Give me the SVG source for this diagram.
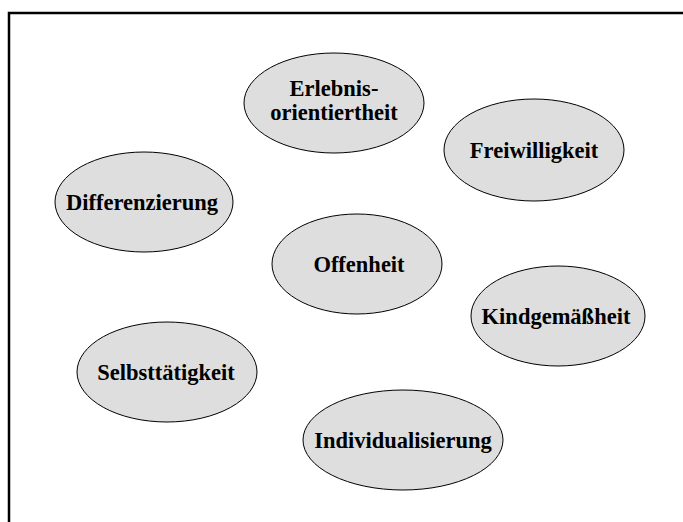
<svg xmlns="http://www.w3.org/2000/svg" width="683" height="522" viewBox="0 0 683 522">
  <style>
    .node ellipse { fill: #dedede; stroke: #000; stroke-width: 1; }
    .node text { font-family: "Liberation Serif", "Times New Roman", serif; font-weight: bold; font-size: 22.5px; fill: #000; text-anchor: middle; }
    .frame { fill: none; stroke: #000; stroke-width: 2.5; }
  </style>
  <rect width="683" height="522" fill="#fff"/>
  <!-- open frame: top and left edges only -->
  <path class="frame" d="M9 523 V13 H684"/>
  <g id="connectors"/>
  <g id="erlebnisorientiertheit" class="node">
    <ellipse cx="334" cy="103" rx="90" ry="50"/>
    <text x="334" y="96">Erlebnis-</text>
    <text x="334" y="120">orientiertheit</text>
  </g>
  <g id="freiwilligkeit" class="node">
    <ellipse cx="534" cy="150" rx="90" ry="51"/>
    <text x="534" y="158">Freiwilligkeit</text>
  </g>
  <g id="differenzierung" class="node">
    <ellipse cx="144" cy="202" rx="89" ry="50"/>
    <text x="142" y="210">Differenzierung</text>
  </g>
  <g id="offenheit" class="node">
    <ellipse cx="357" cy="264" rx="85" ry="50"/>
    <text x="359" y="272">Offenheit</text>
  </g>
  <g id="kindgemaessheit" class="node">
    <ellipse cx="558" cy="316" rx="87" ry="50"/>
    <text x="556" y="324">Kindgemäßheit</text>
  </g>
  <g id="selbsttaetigkeit" class="node">
    <ellipse cx="167" cy="372" rx="90" ry="50"/>
    <text x="166" y="380">Selbsttätigkeit</text>
  </g>
  <g id="individualisierung" class="node">
    <ellipse cx="403" cy="440" rx="100" ry="50"/>
    <text x="403" y="448">Individualisierung</text>
  </g>
</svg>
